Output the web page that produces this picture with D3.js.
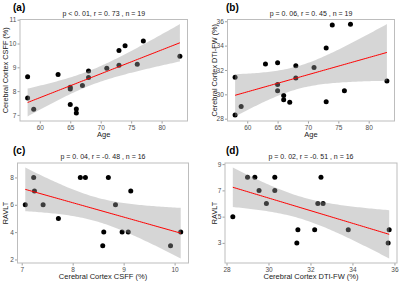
<!DOCTYPE html>
<html>
<head>
<meta charset="utf-8">
<script src="https://cdn.jsdelivr.net/npm/d3@7"></script>
<style>
  body { margin: 0; background: #fff; }
  svg { display: block; font-family: "Liberation Sans", Arial, sans-serif; }
</style>
</head>
<body>
<svg id="chart" width="400" height="285"></svg>
<script>
// values
const age      = [58, 58, 59, 63, 65, 65, 65, 66, 66, 67, 68, 68, 71, 73, 73, 74, 76, 77, 83];
const csff     = [8.60, 7.71, 7.24, 8.70, 8.16, 8.09, 7.44, 7.25, 7.08, 8.24, 8.84, 8.57, 8.96, 9.71, 9.09, 9.91, 9.13, 10.11, 9.46];
const dtifw    = [31.4, 28.3, 29.0, 32.5, 32.6, 30.8, 30.3, 29.9, 29.55, 29.35, 32.35, 31.35, 32.2, 33.8, 29.4, 35.7, 30.3, 35.75, 31.1];

const csffC    = [7.07, 7.235, 7.25, 7.42, 7.72, 8.15, 8.25, 8.59, 8.61, 8.70, 8.84, 8.97, 9.09, 9.14, 9.92, 10.12];
const ravltC   = [6, 8, 7, 6, 5, 8, 8, 3, 4, 8, 6, 4, 4, 7, 3, 4];
const dtifwD   = [28.3, 29.0, 29.35, 29.55, 29.9, 30.3, 30.3, 31.35, 31.4, 32.2, 32.35, 32.5, 32.6, 33.8, 35.7, 35.75];
const ravltD   = [5, 8, 8, 7, 6, 8, 7, 3, 4, 4, 6, 8, 6, 4, 3, 4];

const labels   = ["(a)", "(b)", "(c)", "(d)"];
const stats    = ["p < 0. 01, r = 0. 73 , n = 19", "p = 0. 06, r = 0. 45 , n = 19",
                  "p = 0. 04, r = -0. 48 , n = 16", "p = 0. 02, r = -0. 51 , n = 16"];
const xTitles  = ["Age", "Age", "Cerebral Cortex CSFF (%)", "Cerebral Cortex DTI-FW (%)"];
const yTitles  = ["Cerebral Cortex CSFF (%)", "Cerebral Cortex DTI-FW (%)", "RAVLT", "RAVLT"];
const xTicks   = [[60, 65, 70, 75, 80], [60, 65, 70, 75, 80], [7, 8, 9, 10], [28, 30, 32, 34, 36]];
const yTicks   = [[7, 8, 9, 10, 11], [28, 30, 32, 34, 36], [2, 4, 6, 8], [3, 5, 7, 9]];
// t quantile 0.975 for n-2 degrees of freedom
const tCrit    = {17: 2.1098, 14: 2.1448};

const svg = d3.select("#chart");

// plot box of each panel [left, top, right, bottom]
const boxes = [
  [20, 19.5, 187.5, 121],
  [227.5, 19.5, 394.5, 121],
  [17.5, 163, 188.5, 263],
  [225, 163, 397, 263]
];
const panels = [
  {x: age, y: csff},
  {x: age, y: dtifw},
  {x: csffC, y: ravltC},
  {x: dtifwD, y: ravltD}
];

function linfit(xs, ys){
  let n = xs.length;
  let mx = d3.mean(xs), my = d3.mean(ys);
  let sxx = d3.sum(xs, x => (x-mx)*(x-mx));
  let sxy = d3.sum(xs.map((x, i) => (x-mx)*(ys[i]-my)));
  let b = sxy/sxx, a = my - b*mx;
  let sse = d3.sum(xs.map((x, i) => Math.pow(ys[i] - (a + b*x), 2)));
  let s = Math.sqrt(sse/(n-2));
  let t = tCrit[n-2];
  return (x) => {
    let fit = a + b*x;
    let se = s*Math.sqrt(1/n + (x-mx)*(x-mx)/sxx);
    return {x: x, fit: fit, lo: fit - t*se, hi: fit + t*se};
  };
}

function expand(ext){
  let pad = (ext[1]-ext[0])*0.05;
  return [ext[0]-pad, ext[1]+pad];
}

panels.forEach((p, k) => {
  let [l, t, r, b] = boxes[k];
  let model = linfit(p.x, p.y);
  let xExt = d3.extent(p.x);
  let band = d3.range(80).map(i => model(xExt[0] + (xExt[1]-xExt[0])*i/79));

  let yLo = Math.min(d3.min(p.y), d3.min(band, d => d.lo));
  let yHi = Math.max(d3.max(p.y), d3.max(band, d => d.hi));

  let x = d3.scaleLinear().domain(expand(xExt)).range([l, r]);
  let y = d3.scaleLinear().domain(expand([yLo, yHi])).range([b, t]);

  let g = svg.append("g");

  // points first, ribbon is drawn over them like geom_smooth does
  g.selectAll("circle").data(p.x).enter().append("circle")
    .attr("cx", d => x(d))
    .attr("cy", (d, i) => y(p.y[i]))
    .attr("r", 2.5)
    .attr("fill", "#000");

  g.append("path").datum(band)
    .attr("d", d3.area().x(d => x(d.x)).y0(d => y(d.lo)).y1(d => y(d.hi)))
    .attr("fill", "#999999")
    .attr("fill-opacity", 0.4);

  g.append("path").datum(band)
    .attr("d", d3.line().x(d => x(d.x)).y(d => y(d.fit)))
    .attr("fill", "none")
    .attr("stroke", "#ff0000")
    .attr("stroke-width", 1);

  // axes
  let ax = g.append("g").attr("transform", `translate(0,${b})`)
    .call(d3.axisBottom(x).tickValues(xTicks[k]).tickFormat(d3.format("d")).tickSize(2.5).tickPadding(1.5));
  let ay = g.append("g").attr("transform", `translate(${l},0)`)
    .call(d3.axisLeft(y).tickValues(yTicks[k]).tickFormat(d3.format("d")).tickSize(2.5).tickPadding(1.2));
  [ax, ay].forEach(a => {
    a.select(".domain").remove();
    a.selectAll("line").attr("stroke", "#a0a0a0");
    a.selectAll("text").attr("fill", "#4d4d4d").attr("font-size", 6.5);
  });

  g.append("rect")
    .attr("x", l).attr("y", t)
    .attr("width", r-l).attr("height", b-t)
    .attr("fill", "none")
    .attr("stroke", "#bdbdbd")
    .attr("stroke-width", 1);

  // texts
  g.append("text")
    .attr("x", (l+r)/2).attr("y", b + 16)
    .attr("text-anchor", "middle")
    .attr("font-size", 7.5)
    .attr("fill", "#1a1a1a")
    .text(xTitles[k]);

  g.append("text")
    .attr("transform", `translate(${k % 2 ? 214 : 5},${(t+b)/2}) rotate(-90)`)
    .attr("text-anchor", "middle")
    .attr("dominant-baseline", "central")
    .attr("font-size", 7.3)
    .attr("fill", "#1a1a1a")
    .text(yTitles[k]);

  g.append("text")
    .attr("x", (l+r)/2).attr("y", t - 4)
    .attr("text-anchor", "middle")
    .attr("font-size", 7)
    .attr("fill", "#1a1a1a")
    .text(stats[k]);

  g.append("text")
    .attr("x", k % 2 ? 226 : 13).attr("y", t - 9)
    .attr("font-size", 10)
    .attr("font-weight", "bold")
    .attr("fill", "#000")
    .text(labels[k]);
});
</script>
</body>
</html>
